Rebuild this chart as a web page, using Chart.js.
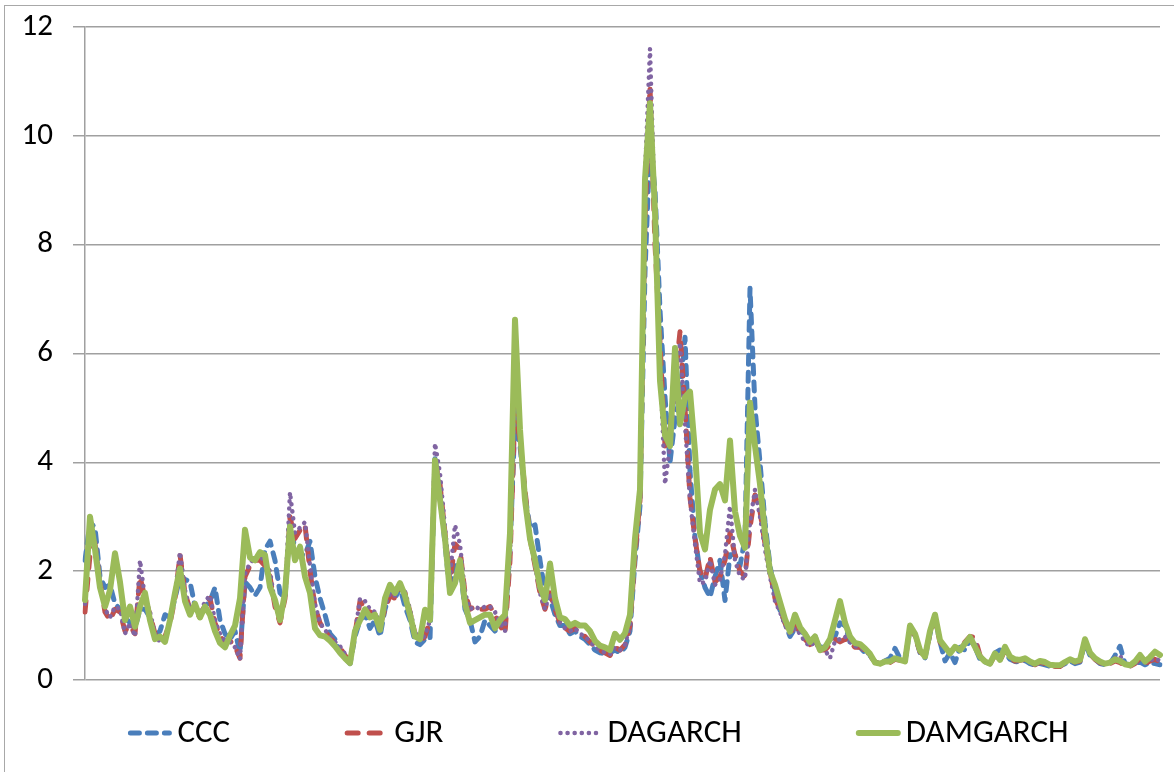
<!DOCTYPE html>
<html>
<head>
<meta charset="utf-8">
<title>Volatility models</title>
<script src="https://cdn.jsdelivr.net/npm/chart.js@4.4.0/dist/chart.umd.min.js"></script>
<style>
  html, body { margin: 0; padding: 0; background: #fff; overflow: hidden; }
  #wrap { position: relative; width: 1174px; height: 772px; }
  #frame {
    position: absolute; left: 4px; top: 5px; width: 1300px; height: 900px;
    border: 1.5px solid #a8a8a8; pointer-events: none;
  }
</style>
</head>
<body>
<div id="wrap">
  <canvas id="vol-chart" width="1174" height="772"></canvas>
  <div id="frame"></div>
</div>
<script>
// Series names, in legend order
let seriesNames = ['CCC', 'GJR', 'DAGARCH', 'DAMGARCH'];

// Y axis ticks
let yTicks = [0, 2, 4, 6, 8, 10, 12];

// Values, one every few pixels along the time axis
let cccValues = [
  2.2,2.9,2.8,1.9,1.7,1.75,1.4,1.3,1.15,1.05,
  0.95,1.3,1.3,1.15,0.8,0.9,1.2,1.15,1.5,1.9,
  1.85,1.8,1.35,1.2,1.35,1.45,1.7,1.1,0.85,0.75,
  0.9,0.5,1.8,1.7,1.55,1.7,2.4,2.55,2.2,1.6,
  1.5,2.9,2.4,2.3,2.3,2.55,1.9,1.5,1.2,0.85,
  0.75,0.5,0.4,0.3,0.8,1.1,1.2,0.95,1.1,0.8,
  1.3,1.6,1.5,1.7,1.35,1.1,0.7,0.65,0.75,0.75,
  4.1,3.4,2.5,1.6,2.1,2.1,1.3,1.1,0.7,0.8,
  1.1,1.0,0.9,1.05,1.1,2.4,4.8,4.3,3.4,2.8,
  2.85,2.2,1.6,1.5,1.2,1.0,1.0,0.85,0.9,0.8,
  0.75,0.65,0.55,0.5,0.48,0.5,0.55,0.5,0.6,0.9,
  2.2,3.2,7.5,9.9,9.0,6.8,5.2,4.0,4.8,5.2,
  6.3,3.84,2.62,2.0,1.7,1.52,1.9,2.2,1.46,2.3,
  2.3,2.1,2.6,7.2,5.0,4.0,2.9,2.1,1.6,1.28,
  1.05,0.8,0.95,0.9,0.85,0.7,0.8,0.6,0.6,0.75,
  0.8,1.05,1.0,0.7,0.62,0.6,0.5,0.45,0.33,0.32,
  0.35,0.4,0.58,0.4,0.35,0.95,0.82,0.5,0.4,0.85,
  1.15,0.7,0.35,0.5,0.32,0.6,0.55,0.75,0.6,0.38,
  0.33,0.3,0.5,0.55,0.5,0.38,0.34,0.33,0.36,0.3,
  0.27,0.3,0.28,0.25,0.25,0.26,0.3,0.35,0.3,0.33,
  0.7,0.45,0.38,0.3,0.28,0.3,0.45,0.62,0.3,0.28,
  0.3,0.33,0.28,0.33,0.3,0.28
];

let gjrValues = [
  1.25,2.3,2.5,1.8,1.25,1.1,1.3,1.25,0.9,1.0,
  0.85,1.9,1.5,1.2,0.85,0.72,0.8,1.05,1.5,2.3,
  1.6,1.3,1.25,1.15,1.4,1.5,1.05,0.8,0.7,0.72,
  0.62,0.4,1.9,2.1,2.2,2.2,2.1,1.9,1.35,1.05,
  1.5,3.0,2.6,2.75,2.85,2.0,1.35,1.05,0.9,0.78,
  0.68,0.6,0.45,0.35,0.85,1.45,1.3,1.25,1.2,1.0,
  1.3,1.55,1.5,1.7,1.6,1.25,0.85,0.7,0.8,1.1,
  4.0,3.6,2.7,1.8,2.5,2.4,1.6,1.3,1.35,1.3,
  1.3,1.35,1.2,1.0,0.85,2.2,5.0,4.4,3.5,2.6,
  2.1,1.6,1.3,1.6,1.3,1.05,0.95,0.9,0.95,0.85,
  0.8,0.7,0.62,0.55,0.5,0.45,0.6,0.55,0.65,1.0,
  2.3,3.3,8.5,10.9,8.0,6.2,4.3,4.6,5.5,6.4,
  5.0,3.35,2.6,2.0,1.85,2.26,1.8,1.9,2.2,2.7,
  2.3,2.0,1.9,2.8,3.4,3.1,2.5,2.0,1.5,1.3,
  1.05,0.85,1.0,0.9,0.75,0.65,0.7,0.55,0.55,0.65,
  0.75,0.7,0.75,0.7,0.6,0.6,0.55,0.45,0.33,0.3,
  0.33,0.32,0.38,0.36,0.35,0.95,0.8,0.52,0.45,0.85,
  1.1,0.7,0.58,0.5,0.6,0.55,0.7,0.8,0.78,0.45,
  0.35,0.3,0.45,0.35,0.55,0.4,0.35,0.36,0.38,0.32,
  0.28,0.33,0.3,0.26,0.25,0.25,0.32,0.37,0.33,0.35,
  0.72,0.48,0.38,0.32,0.28,0.3,0.35,0.32,0.25,0.25,
  0.3,0.4,0.3,0.35,0.38,0.33
];

let dagarchValues = [
  1.4,2.8,2.6,1.8,1.3,1.15,1.35,1.3,0.85,1.05,
  0.8,2.2,1.5,1.25,0.85,0.7,0.78,1.05,1.6,2.35,
  1.65,1.3,1.3,1.2,1.45,1.55,1.1,0.85,0.72,0.7,
  0.6,0.38,1.95,2.15,2.25,2.3,2.15,2.0,1.4,1.1,
  1.55,3.45,2.7,2.8,2.9,2.1,1.4,1.05,0.92,0.8,
  0.7,0.62,0.48,0.36,0.85,1.5,1.45,1.3,1.25,1.05,
  1.35,1.6,1.55,1.75,1.62,1.3,0.88,0.72,0.82,1.1,
  4.35,3.8,2.8,1.9,2.85,2.5,1.6,1.3,1.35,1.3,
  1.35,1.35,1.25,1.05,0.9,2.3,5.2,4.5,3.5,2.6,
  2.1,1.6,1.3,1.6,1.35,1.05,0.95,0.9,0.95,0.85,
  0.8,0.7,0.62,0.55,0.5,0.47,0.6,0.55,0.65,1.0,
  2.4,3.6,9.3,11.6,8.5,5.8,3.6,4.3,5.3,6.2,
  4.7,3.3,2.5,1.77,1.8,2.2,1.75,1.85,2.3,3.2,
  2.2,1.9,1.85,2.9,3.5,3.0,2.4,1.9,1.45,1.25,
  1.0,0.85,0.95,0.85,0.7,0.62,0.7,0.55,0.55,0.4,
  0.72,0.75,0.8,0.7,0.62,0.6,0.55,0.45,0.33,0.3,
  0.33,0.33,0.38,0.37,0.35,0.97,0.82,0.53,0.45,0.88,
  1.15,0.72,0.6,0.5,0.6,0.56,0.7,0.78,0.7,0.45,
  0.35,0.3,0.46,0.36,0.56,0.42,0.36,0.37,0.39,0.33,
  0.28,0.33,0.31,0.27,0.26,0.26,0.32,0.37,0.33,0.35,
  0.73,0.48,0.39,0.33,0.29,0.31,0.4,0.45,0.27,0.26,
  0.3,0.42,0.32,0.36,0.4,0.35
];

let damgarchValues = [
  1.47,3.0,2.4,1.7,1.35,1.65,2.33,1.8,1.1,1.35,
  0.98,1.35,1.6,1.1,0.75,0.8,0.7,1.1,1.6,2.05,
  1.45,1.2,1.4,1.15,1.35,1.2,0.9,0.68,0.6,0.82,
  1.0,1.5,2.76,2.25,2.2,2.35,2.3,1.71,1.47,1.1,
  1.6,2.82,2.2,2.45,1.9,1.6,0.95,0.82,0.8,0.72,
  0.62,0.5,0.4,0.31,0.9,1.1,1.3,1.15,1.2,0.92,
  1.5,1.75,1.6,1.78,1.55,1.2,0.8,0.75,1.29,1.1,
  4.04,3.31,2.6,1.6,1.78,2.2,1.4,1.05,1.1,1.15,
  1.2,1.2,0.95,1.1,1.2,2.7,6.62,4.6,3.31,2.6,
  2.2,1.72,1.47,2.14,1.5,1.15,1.12,1.0,1.05,1.0,
  1.0,0.9,0.72,0.63,0.6,0.55,0.85,0.74,0.86,1.2,
  2.6,3.5,9.2,10.6,8.6,5.5,4.5,4.3,6.1,4.7,
  5.2,5.3,4.2,2.7,2.4,3.13,3.5,3.6,3.3,4.4,
  3.1,2.65,2.43,5.1,4.3,3.6,2.7,2.0,1.75,1.43,
  1.12,0.89,1.2,0.97,0.85,0.7,0.8,0.55,0.6,0.75,
  1.1,1.45,1.05,0.8,0.68,0.66,0.58,0.48,0.32,0.3,
  0.34,0.34,0.4,0.37,0.34,1.0,0.85,0.55,0.43,0.9,
  1.2,0.73,0.61,0.49,0.61,0.55,0.67,0.79,0.61,0.43,
  0.34,0.3,0.49,0.37,0.61,0.43,0.38,0.37,0.4,0.34,
  0.3,0.35,0.33,0.28,0.27,0.27,0.33,0.38,0.34,0.37,
  0.75,0.5,0.4,0.34,0.3,0.32,0.38,0.35,0.29,0.27,
  0.34,0.46,0.34,0.42,0.52,0.46
];

// x axis has no visible labels, just an observation index
let timeLabels = damgarchValues.map((v, i) => i + 1);

const FONT = "Carlito, 'Liberation Sans', Arial, sans-serif";
const GRID = '#a0a0a0';

// Draws the legend under the plot, spaced like the Excel original
const bottomLegend = {
  id: 'bottomLegend',
  afterDraw(chart) {
    const ctx = chart.ctx;
    const sampleWidth = 45;
    const textGap = 5;
    const itemGap = 114;
    const centerX = 598;
    const y = 733;

    ctx.save();
    ctx.font = '33px ' + FONT;
    let items = chart.data.datasets.map(ds => {
      return { ds: ds, width: sampleWidth + textGap + ctx.measureText(ds.label).width };
    });
    let total = items.reduce((s, it) => s + it.width, 0) + itemGap * (items.length - 1);
    let x = centerX - total / 2;

    items.forEach(it => {
      // line sample
      ctx.beginPath();
      ctx.strokeStyle = it.ds.borderColor;
      ctx.lineWidth = it.ds.borderWidth;
      ctx.lineCap = it.ds.borderCapStyle || 'butt';
      ctx.setLineDash(it.ds.borderDash || []);
      ctx.moveTo(x + 3, y);
      ctx.lineTo(x + sampleWidth - 3, y);
      ctx.stroke();
      // label
      ctx.setLineDash([]);
      ctx.fillStyle = '#000';
      ctx.textBaseline = 'middle';
      ctx.textAlign = 'left';
      ctx.fillText(it.ds.label, x + sampleWidth + textGap, y + 1);
      x += it.width + itemGap;
    });
    ctx.restore();
  }
};

let volChart = new Chart('vol-chart', {
  type: 'line',
  data: {
    labels: timeLabels,
    datasets: [
      {
        label: seriesNames[0],
        data: cccValues,
        borderColor: '#4a7ebb',
        borderWidth: 5,
        borderDash: [9, 8],
        borderCapStyle: 'round',
        order: 3
      },
      {
        label: seriesNames[1],
        data: gjrValues,
        borderColor: '#c0504d',
        borderWidth: 5,
        borderDash: [11, 11],
        borderCapStyle: 'round',
        order: 2
      },
      {
        label: seriesNames[2],
        data: dagarchValues,
        borderColor: '#8064a2',
        borderWidth: 4.5,
        borderDash: [0.1, 7],
        borderCapStyle: 'round',
        order: 1
      },
      {
        label: seriesNames[3],
        data: damgarchValues,
        borderColor: '#9bbb59',
        borderWidth: 6,
        borderCapStyle: 'round',
        order: 0
      }
    ]
  },
  options: {
    responsive: false,
    animation: false,
    layout: {
      padding: { top: 27, right: 14, bottom: 92, left: 0 }
    },
    elements: {
      point: { radius: 0 },
      line: { tension: 0, borderJoinStyle: 'round', fill: false }
    },
    plugins: {
      legend: { display: false },
      tooltip: { enabled: false }
    },
    scales: {
      x: {
        display: false
      },
      y: {
        min: yTicks[0],
        max: yTicks[yTicks.length - 1],
        afterBuildTicks(scale) {
          scale.ticks = yTicks.map(v => ({ value: v }));
        },
        afterFit(scale) {
          // fixed axis band, and no extra room asked for the end labels
          scale.width = 85;
          scale.paddingTop = 0;
          scale.paddingBottom = 0;
        },
        ticks: {
          color: '#000',
          padding: 20,
          font: { size: 31, family: FONT }
        },
        grid: {
          color: GRID,
          lineWidth: 1.5,
          tickLength: 12
        },
        border: {
          color: GRID,
          width: 1.5
        }
      }
    }
  },
  plugins: [bottomLegend]
});
</script>
</body>
</html>
